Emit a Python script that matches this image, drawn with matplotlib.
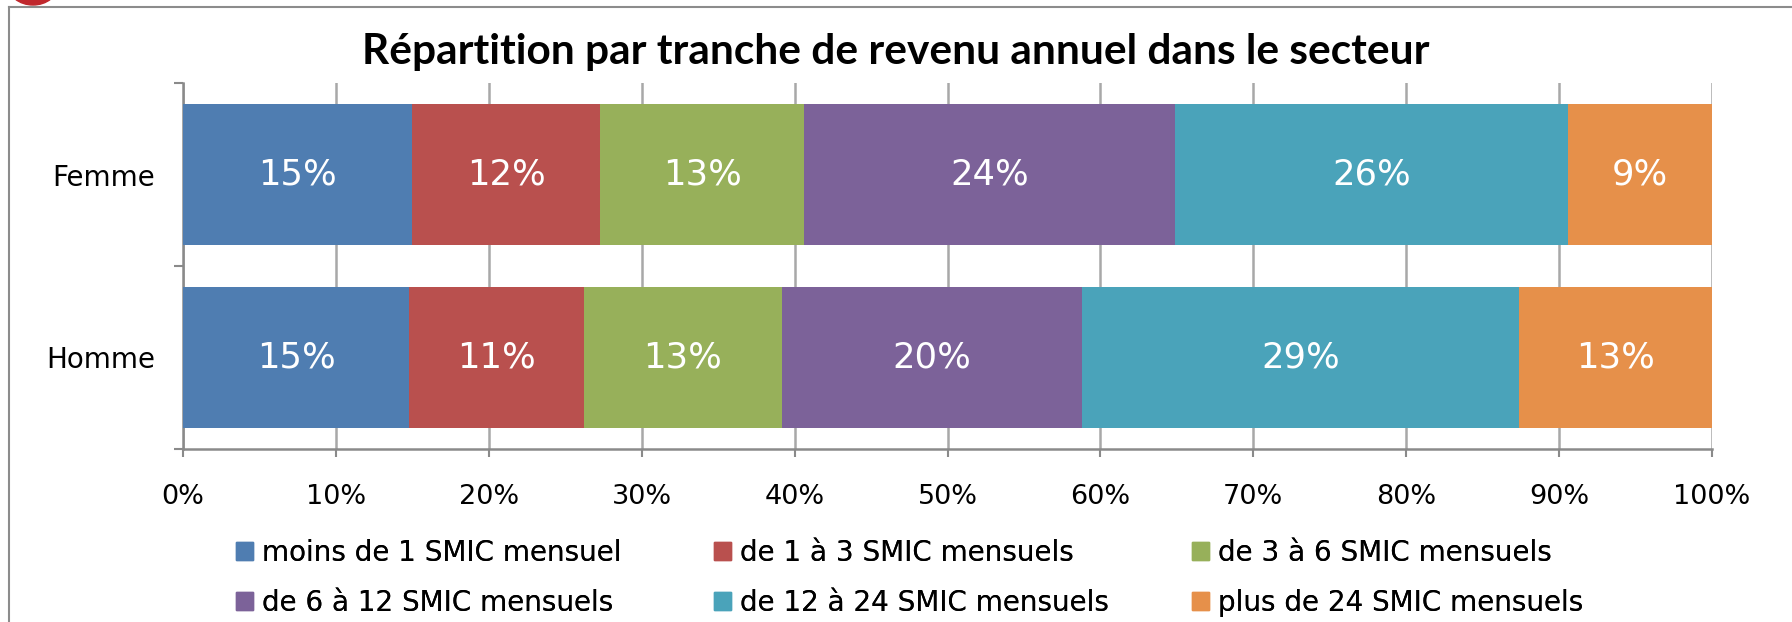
import matplotlib
matplotlib.use('Agg')
import matplotlib.pyplot as plt
from matplotlib.patches import Patch, Ellipse
from matplotlib.lines import Line2D
import numpy as np

# Data (percent of each group)
categories = ['Homme', 'Femme']
tranches = ['moins de 1 SMIC mensuel', 'de 1 à 3 SMIC mensuels', 'de 3 à 6 SMIC mensuels',
            'de 6 à 12 SMIC mensuels', 'de 12 à 24 SMIC mensuels', 'plus de 24 SMIC mensuels']
homme = [14.8, 11.4, 13.0, 19.6, 28.6, 12.6]
femme = [15.0, 12.3, 13.3, 24.3, 25.7, 9.4]
xticks = np.arange(0, 101, 10)

colors = ['#4F7DB1', '#B9504E', '#97B05A', '#7C6299', '#4AA3BA', '#E6904A']

W, H = 1792, 622
fig = plt.figure(figsize=(W / 100, H / 100), dpi=100)
ax = fig.add_axes([183 / W, 1 - 449 / H, (1712 - 183) / W, (449 - 83) / H])

values = np.array([homme, femme])  # rows follow categories
left = np.zeros(len(categories))
ypos = np.arange(len(categories))
for i, name in enumerate(tranches):
    bars = ax.barh(ypos, values[:, i], left=left, height=0.768, color=colors[i],
                   label=name, zorder=3)
    ax.bar_label(bars, labels=['{:.0f}%'.format(v) for v in values[:, i]],
                 label_type='center', color='white', fontsize=25.5)
    left += values[:, i]

ax.set_xlim(0, 100)
ax.set_ylim(-0.5, 1.5)
ax.set_xticks(xticks)
ax.set_xticklabels(['{}%'.format(t) for t in xticks])
ax.set_yticks(ypos)
ax.set_yticklabels(categories)
ax.set_yticks([-0.5, 0.5, 1.5], minor=True)

ax.xaxis.grid(True, color='#a8a8a8', lw=1.8)
ax.set_axisbelow(True)
for s in ['top', 'right']:
    ax.spines[s].set_visible(False)
for s in ['left', 'bottom']:
    ax.spines[s].set_color('#8a8a8a')
    ax.spines[s].set_linewidth(1.8)

ax.tick_params(axis='y', which='major', length=0, pad=20, labelsize=20)
ax.tick_params(axis='y', which='minor', length=6.5, width=1.5, color='#8a8a8a')
ax.tick_params(axis='x', length=6, width=1.5, color='#8a8a8a', labelsize=19.5, pad=19)

fig.text(0.5, 1 - 52 / H, 'Répartition par tranche de revenu annuel dans le secteur',
         ha='center', va='center', fontsize=30.5, fontweight='bold', family='Lato')

# legend: three columns, filled row by row like the original
handles = [Patch(color=c) for c in colors]
col_x = [236, 714, 1192]
for k, x in enumerate(col_x):
    idx = [k, k + 3]
    leg = fig.legend([handles[i] for i in idx], [tranches[i] for i in idx],
                     loc='center left', bbox_to_anchor=(x / W, 1 - 578 / H),
                     frameon=False, fontsize=20, handlelength=0.62, handleheight=0.62,
                     handletextpad=0.32, labelspacing=0.8, borderpad=0, borderaxespad=0)
    fig.add_artist(leg)

# chart frame and the corner of the logo
fig.add_artist(Line2D([9 / W, 9 / W], [0, 1 - 7 / H], color='#8c8c8c', lw=1.5))
fig.add_artist(Line2D([9 / W, 1], [1 - 7 / H, 1 - 7 / H], color='#8c8c8c', lw=1.5))
fig.add_artist(Ellipse((33, H + 15), 50, 40, color='#c0282d', transform=None))

fig.savefig('out.png', dpi=100)
